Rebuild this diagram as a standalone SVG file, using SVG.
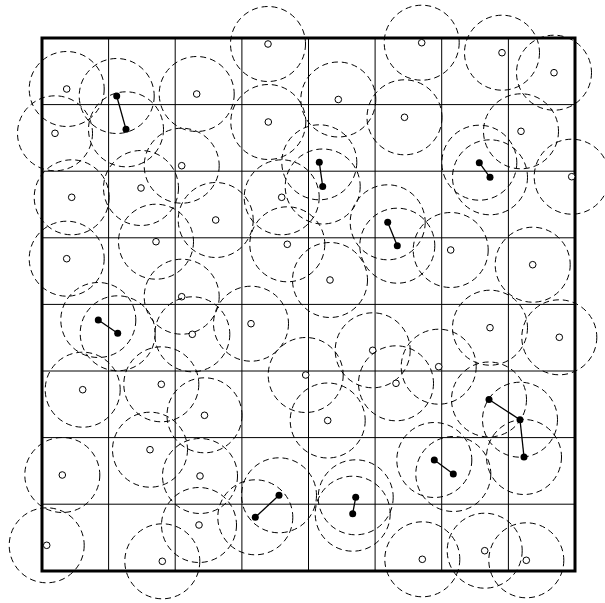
<svg xmlns="http://www.w3.org/2000/svg" width="605" height="603" viewBox="0 0 605 603">
<style>
.g{stroke:#000;stroke-width:1;fill:none}
.b{stroke:#000;stroke-width:3;fill:none}
.c{stroke:#000;stroke-width:1;fill:none;stroke-dasharray:6,4}
.o{stroke:#000;stroke-width:1;fill:#fff}
.f{fill:#000;stroke:none}
.e{stroke:#000;stroke-width:1.3;fill:none}
</style>
<rect width="605" height="603" fill="#fff"/>
<g id="grid">
<path class="g" d="M108.6 38V571M175.2 38V571M241.9 38V571M308.5 38V571M375.1 38V571M441.7 38V571M508.4 38V571M42 104.6H575M42 171.2H575M42 237.8H575M42 304.4H575M42 371H575M42 437.6H575M42 504.2H575"/>
<rect class="b" x="42" y="38" width="533" height="533"/>
</g>
<g id="connectors">
<line class="e" x1="116.7" y1="96" x2="126" y2="129.3"/>
<line class="e" x1="319.3" y1="162.3" x2="322.7" y2="186.5"/>
<line class="e" x1="479.3" y1="162.7" x2="490" y2="177.3"/>
<line class="e" x1="387.7" y1="222.3" x2="397.3" y2="245.7"/>
<line class="e" x1="98.3" y1="320" x2="117.7" y2="333.3"/>
<line class="e" x1="489" y1="399.5" x2="520" y2="419.7"/>
<line class="e" x1="520" y1="419.7" x2="524" y2="457"/>
<line class="e" x1="434.3" y1="460" x2="453.3" y2="474"/>
<line class="e" x1="255.3" y1="517.3" x2="279" y2="495.3"/>
<line class="e" x1="355.7" y1="497.3" x2="352.7" y2="513.7"/>
</g>
<g id="p1"><circle class="c" cx="268" cy="44" r="37.5"/><circle class="o" cx="268" cy="44" r="3.3"/></g>
<g id="p2"><circle class="c" cx="421.7" cy="42.7" r="37.5"/><circle class="o" cx="421.7" cy="42.7" r="3.3"/></g>
<g id="p3"><circle class="c" cx="502" cy="52.7" r="37.5"/><circle class="o" cx="502" cy="52.7" r="3.3"/></g>
<g id="p4"><circle class="c" cx="554" cy="72.7" r="37.5"/><circle class="o" cx="554" cy="72.7" r="3.3"/></g>
<g id="p5"><circle class="c" cx="66.7" cy="89" r="37.5"/><circle class="o" cx="66.7" cy="89" r="3.3"/></g>
<g id="p6"><circle class="c" cx="196.7" cy="94" r="37.5"/><circle class="o" cx="196.7" cy="94" r="3.3"/></g>
<g id="p7"><circle class="c" cx="338.3" cy="99.5" r="37.5"/><circle class="o" cx="338.3" cy="99.5" r="3.3"/></g>
<g id="p8"><circle class="c" cx="55" cy="133.3" r="37.5"/><circle class="o" cx="55" cy="133.3" r="3.3"/></g>
<g id="p9"><circle class="c" cx="268.3" cy="122" r="37.5"/><circle class="o" cx="268.3" cy="122" r="3.3"/></g>
<g id="p10"><circle class="c" cx="404.5" cy="117.3" r="37.5"/><circle class="o" cx="404.5" cy="117.3" r="3.3"/></g>
<g id="p11"><circle class="c" cx="521" cy="131.3" r="37.5"/><circle class="o" cx="521" cy="131.3" r="3.3"/></g>
<g id="p12"><circle class="c" cx="181.7" cy="165.7" r="37.5"/><circle class="o" cx="181.7" cy="165.7" r="3.3"/></g>
<g id="p13"><circle class="c" cx="571.7" cy="176.7" r="37.5"/><circle class="o" cx="571.7" cy="176.7" r="3.3"/></g>
<g id="p14"><circle class="c" cx="141" cy="188" r="37.5"/><circle class="o" cx="141" cy="188" r="3.3"/></g>
<g id="p15"><circle class="c" cx="71.7" cy="197.3" r="37.5"/><circle class="o" cx="71.7" cy="197.3" r="3.3"/></g>
<g id="p16"><circle class="c" cx="281.7" cy="197.3" r="37.5"/><circle class="o" cx="281.7" cy="197.3" r="3.3"/></g>
<g id="p17"><circle class="c" cx="215.7" cy="220" r="37.5"/><circle class="o" cx="215.7" cy="220" r="3.3"/></g>
<g id="p18"><circle class="c" cx="156" cy="241.7" r="37.5"/><circle class="o" cx="156" cy="241.7" r="3.3"/></g>
<g id="p19"><circle class="c" cx="287.3" cy="244.3" r="37.5"/><circle class="o" cx="287.3" cy="244.3" r="3.3"/></g>
<g id="p20"><circle class="c" cx="66.7" cy="258.7" r="37.5"/><circle class="o" cx="66.7" cy="258.7" r="3.3"/></g>
<g id="p21"><circle class="c" cx="330" cy="280" r="37.5"/><circle class="o" cx="330" cy="280" r="3.3"/></g>
<g id="p22"><circle class="c" cx="450.7" cy="250" r="37.5"/><circle class="o" cx="450.7" cy="250" r="3.3"/></g>
<g id="p23"><circle class="c" cx="532.7" cy="264.7" r="37.5"/><circle class="o" cx="532.7" cy="264.7" r="3.3"/></g>
<g id="p24"><circle class="c" cx="181.7" cy="296.7" r="37.5"/><circle class="o" cx="181.7" cy="296.7" r="3.3"/></g>
<g id="p25"><circle class="c" cx="251" cy="323.7" r="37.5"/><circle class="o" cx="251" cy="323.7" r="3.3"/></g>
<g id="p26"><circle class="c" cx="192.3" cy="334.3" r="37.5"/><circle class="o" cx="192.3" cy="334.3" r="3.3"/></g>
<g id="p27"><circle class="c" cx="490" cy="327.7" r="37.5"/><circle class="o" cx="490" cy="327.7" r="3.3"/></g>
<g id="p28"><circle class="c" cx="559.3" cy="337.3" r="37.5"/><circle class="o" cx="559.3" cy="337.3" r="3.3"/></g>
<g id="p29"><circle class="c" cx="372.7" cy="350.3" r="37.5"/><circle class="o" cx="372.7" cy="350.3" r="3.3"/></g>
<g id="p30"><circle class="c" cx="438.7" cy="366.7" r="37.5"/><circle class="o" cx="438.7" cy="366.7" r="3.3"/></g>
<g id="p31"><circle class="c" cx="82.7" cy="389.7" r="37.5"/><circle class="o" cx="82.7" cy="389.7" r="3.3"/></g>
<g id="p32"><circle class="c" cx="161.3" cy="384.3" r="37.5"/><circle class="o" cx="161.3" cy="384.3" r="3.3"/></g>
<g id="p33"><circle class="c" cx="305.7" cy="375" r="37.5"/><circle class="o" cx="305.7" cy="375" r="3.3"/></g>
<g id="p34"><circle class="c" cx="396" cy="383.3" r="37.5"/><circle class="o" cx="396" cy="383.3" r="3.3"/></g>
<g id="p35"><circle class="c" cx="204.5" cy="415.3" r="37.5"/><circle class="o" cx="204.5" cy="415.3" r="3.3"/></g>
<g id="p36"><circle class="c" cx="327.7" cy="420.5" r="37.5"/><circle class="o" cx="327.7" cy="420.5" r="3.3"/></g>
<g id="p37"><circle class="c" cx="150" cy="449.7" r="37.5"/><circle class="o" cx="150" cy="449.7" r="3.3"/></g>
<g id="p38"><circle class="c" cx="62.3" cy="475" r="37.5"/><circle class="o" cx="62.3" cy="475" r="3.3"/></g>
<g id="p39"><circle class="c" cx="200" cy="476" r="37.5"/><circle class="o" cx="200" cy="476" r="3.3"/></g>
<g id="p40"><circle class="c" cx="199" cy="525" r="37.5"/><circle class="o" cx="199" cy="525" r="3.3"/></g>
<g id="p41"><circle class="c" cx="46.7" cy="545.3" r="37.5"/><circle class="o" cx="46.7" cy="545.3" r="3.3"/></g>
<g id="p42"><circle class="c" cx="162.3" cy="561.3" r="37.5"/><circle class="o" cx="162.3" cy="561.3" r="3.3"/></g>
<g id="p43"><circle class="c" cx="422.3" cy="559.3" r="37.5"/><circle class="o" cx="422.3" cy="559.3" r="3.3"/></g>
<g id="p44"><circle class="c" cx="484.7" cy="550.7" r="37.5"/><circle class="o" cx="484.7" cy="550.7" r="3.3"/></g>
<g id="p45"><circle class="c" cx="526.3" cy="560.3" r="37.5"/><circle class="o" cx="526.3" cy="560.3" r="3.3"/></g>
<g id="f1"><circle class="c" cx="116.7" cy="96" r="37.5"/><circle class="f" cx="116.7" cy="96" r="3.5"/></g>
<g id="f2"><circle class="c" cx="126" cy="129.3" r="37.5"/><circle class="f" cx="126" cy="129.3" r="3.5"/></g>
<g id="f3"><circle class="c" cx="319.3" cy="162.3" r="37.5"/><circle class="f" cx="319.3" cy="162.3" r="3.5"/></g>
<g id="f4"><circle class="c" cx="322.7" cy="186.5" r="37.5"/><circle class="f" cx="322.7" cy="186.5" r="3.5"/></g>
<g id="f5"><circle class="c" cx="479.3" cy="162.7" r="37.5"/><circle class="f" cx="479.3" cy="162.7" r="3.5"/></g>
<g id="f6"><circle class="c" cx="490" cy="177.3" r="37.5"/><circle class="f" cx="490" cy="177.3" r="3.5"/></g>
<g id="f7"><circle class="c" cx="387.7" cy="222.3" r="37.5"/><circle class="f" cx="387.7" cy="222.3" r="3.5"/></g>
<g id="f8"><circle class="c" cx="397.3" cy="245.7" r="37.5"/><circle class="f" cx="397.3" cy="245.7" r="3.5"/></g>
<g id="f9"><circle class="c" cx="98.3" cy="320" r="37.5"/><circle class="f" cx="98.3" cy="320" r="3.5"/></g>
<g id="f10"><circle class="c" cx="117.7" cy="333.3" r="37.5"/><circle class="f" cx="117.7" cy="333.3" r="3.5"/></g>
<g id="f11"><circle class="c" cx="489" cy="399.5" r="37.5"/><circle class="f" cx="489" cy="399.5" r="3.5"/></g>
<g id="f12"><circle class="c" cx="520" cy="419.7" r="37.5"/><circle class="f" cx="520" cy="419.7" r="3.5"/></g>
<g id="f13"><circle class="c" cx="524" cy="457" r="37.5"/><circle class="f" cx="524" cy="457" r="3.5"/></g>
<g id="f14"><circle class="c" cx="434.3" cy="460" r="37.5"/><circle class="f" cx="434.3" cy="460" r="3.5"/></g>
<g id="f15"><circle class="c" cx="453.3" cy="474" r="37.5"/><circle class="f" cx="453.3" cy="474" r="3.5"/></g>
<g id="f16"><circle class="c" cx="255.3" cy="517.3" r="37.5"/><circle class="f" cx="255.3" cy="517.3" r="3.5"/></g>
<g id="f17"><circle class="c" cx="279" cy="495.3" r="37.5"/><circle class="f" cx="279" cy="495.3" r="3.5"/></g>
<g id="f18"><circle class="c" cx="355.7" cy="497.3" r="37.5"/><circle class="f" cx="355.7" cy="497.3" r="3.5"/></g>
<g id="f19"><circle class="c" cx="352.7" cy="513.7" r="37.5"/><circle class="f" cx="352.7" cy="513.7" r="3.5"/></g>
</svg>
